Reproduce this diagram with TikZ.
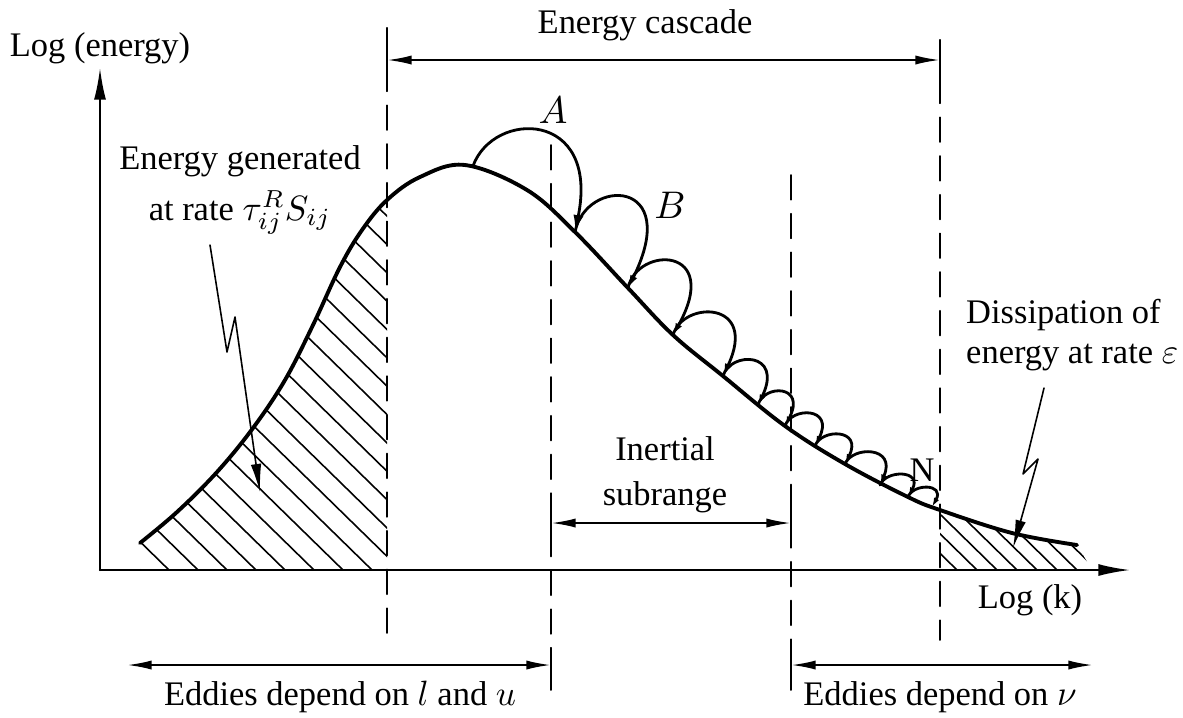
\documentclass[tikz,border=0pt]{standalone}
\usepackage{fontspec}
\setmainfont{Liberation Serif}
\usetikzlibrary{arrows.meta}

\begin{document}
\begin{tikzpicture}[x=0.01cm,y=-0.01cm,line cap=round,line join=round,>=Latex,
    axis/.style={->,>={Latex[length=9pt,width=3.4pt]},line width=0.6pt},
    dimline/.style={<->,>={Latex[length=7pt,width=2.6pt]},line width=0.6pt},
    guide/.style={line width=0.5pt,dash pattern=on 7pt off 4pt},
    bolt/.style={->,>={Latex[length=8pt,width=3pt]},line width=0.45pt},
    hatch/.style={line width=0.45pt},
    lbl/.style={font=\fontsize{9.8}{13.5}\selectfont,inner sep=1pt}]

\useasboundingbox (0,0) rectangle (1183,717);

\def\spectrum{plot[smooth,tension=0.6] coordinates {(140,543) (177,512) (217,472) (253,428) (285,380) (313,325) (340,267) (362,230) (387,200) (420,177) (465,165) (527,190) (575,232) (628,288) (673,335) (723,376) (785,426) (845,464) (908,497) (940,510) (1012,533) (1077,545)}}

% axes
\coordinate (O) at (100,570);
\coordinate (ytip) at (100,68);
\coordinate (xtip) at (1130,570);
\draw[axis] (O) -- (ytip);
\draw[axis] (O) -- (xtip);
\node[lbl] (ylab) at (100,48) {Log (energy)};
\node[lbl] (xlab) at (1030,600) {Log (k)};

% hatched production and dissipation ranges
\begin{scope}
    \clip (140,0) rectangle (387,570) (940,0) rectangle (1100,570);
    \clip \spectrum -- (1092,570) -- (140,570) -- cycle;
    \foreach \k in {-9,...,14}
        \draw[hatch] ({372+29*\k},570) -- ++(-450,-440);
    \foreach \k in {-1,...,12}
        \draw[hatch] ({957+20*\k},570) -- ++(-150,-147);
\end{scope}

% spectrum
\draw[line width=1.1pt] \spectrum;

% range boundaries
\foreach \x/\top/\bot in {387/28/640,551/145/690,791/175/690,940/40/640}
    \draw[guide] (\x,\top) -- (\x,\bot);
\draw[line width=0.5pt] (387,28) -- (387,85) (940,40) -- (940,98);
\draw[line width=0.5pt] (551,505) -- (551,540) (791,505) -- (791,540);
\draw[line width=0.5pt] (551,648) -- (551,688) (791,648) -- (791,688);

\coordinate (cL) at (387,60);   \coordinate (cR) at (940,60);
\coordinate (iL) at (551,523);  \coordinate (iR) at (791,523);
\coordinate (eL) at (127,665);  \coordinate (eM) at (551,665);
\coordinate (nL) at (791,665);  \coordinate (nR) at (1093,665);
\draw[dimline] (cL) -- (cR);
\draw[dimline] (iL) -- (iR);
\draw[dimline] (eL) -- (eM);
\draw[dimline] (nL) -- (nR);

\node[lbl] (cascade) at (645,25) {Energy cascade};
\node[lbl,align=center,font=\fontsize{9.8}{12.8}\selectfont] (inertial) at (665,475) {Inertial\\subrange};
\node[lbl] (eddyL) at (340,697) {Eddies depend on $l$ and $u$};
\node[lbl] (eddyR) at (940,697) {Eddies depend on $\nu$};

% energy input and dissipation
\node[lbl,align=center,font=\fontsize{9.8}{14.5}\selectfont] (gen) at (240,190) {Energy generated\\at rate $\tau^R_{ij}S_{ij}$};
\node[lbl,align=left,anchor=west,font=\fontsize{9.8}{11.5}\selectfont] (diss) at (962,335) {Dissipation of\\energy at rate $\varepsilon$};
\draw[bolt] (210,245) -- (227,352) -- (235,317) -- (260,492);
\draw[bolt] (1044,388) -- (1023,474) -- (1038,459) -- (1013,548);

% cascade of eddies
\foreach \sx/\sy/\ex/\ey/\h/\d in {473/166/575/232/34/25,575/232/628/288/34/55,628/288/673/335/26/50,673/335/723/376/21/36,723/376/758/405/15/26,758/405/785/426/13/22,785/426/815/446/12/20,815/446/845/464/11/18,845/464/880/485/11/17,880/485/908/497/10/15,908/497/932/507/9/13} {
    \pgfmathsetmacro\w{\ex-\sx}
    \pgfmathsetmacro\cy{(\sy-\h-0.125*(\sy+\ey))/0.75}
    \pgfmathsetmacro\al{min(4.8,1.8+0.035*\w)}
    \pgfmathsetmacro\aw{0.6*\al}
    \draw[line width=0.8pt,-{Latex[length=\al pt,width=\aw pt]}] (\sx,\sy) .. controls ({\sx+0.2*\w},\cy) and ({\ex+\d},\cy) .. (\ex,\ey);
}
\node[lbl,font=\fontsize{11}{13}\selectfont] (labA) at (553,110) {$A$};
\node[lbl,font=\fontsize{11}{13}\selectfont] (labB) at (670,205) {$B$};
\node[lbl] (labN) at (922,470) {N};

\end{tikzpicture}
\end{document}
